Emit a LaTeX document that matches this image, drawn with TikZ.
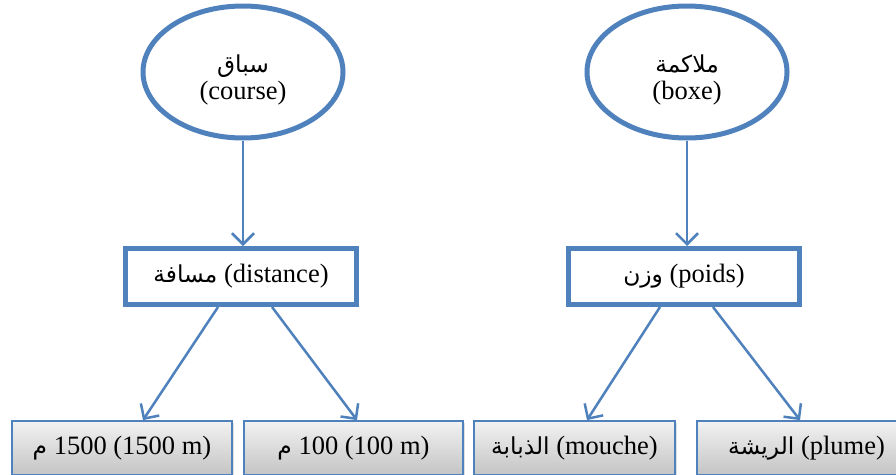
\documentclass[tikz,border=0pt]{standalone}
\usepackage{fontspec}
\setmainfont{Liberation Serif}
\newfontfamily\arabicfont[Script=Arabic,Scale=0.88]{DejaVu Sans}
\TeXXeTstate=1
\usetikzlibrary{shapes.geometric,arrows.meta,calc,shadows}
\definecolor{officeblue}{RGB}{79,129,189}
\definecolor{boxtop}{RGB}{242,242,242}
\definecolor{boxbottom}{RGB}{196,196,196}
\newcommand{\ar}[1]{{\arabicfont\beginR #1\endR}}
\tikzset{
  topic/.style={ellipse, draw=officeblue, line width=5pt, fill=white,
    minimum width=200pt, minimum height=132pt, inner sep=0pt, align=center},
  criterion/.style={rectangle, draw=officeblue, line width=5pt, fill=white,
    minimum width=231pt, minimum height=56pt, inner sep=0pt},
  leaf/.style={rectangle, draw=officeblue, line width=1.8pt,
    top color=boxtop, bottom color=boxbottom,
    drop shadow={shadow xshift=2pt, shadow yshift=-2pt, opacity=0.25},
    minimum height=54pt, inner sep=0pt},
  link/.style={draw=officeblue, line width=2.5pt,
    -{Straight Barb[length=11pt, width=22pt, line width=2.5pt]}},
}
\begin{document}
\begin{tikzpicture}[x=1pt, y=-1pt, font=\fontsize{26.5}{32}\selectfont]
\clip (0,0) rectangle (896,474);
\fill[white] (0,0) rectangle (896,474);

% top level: the two sports
\node[topic] (course) at (243,72) {\rule{0pt}{34pt}\ar{سباق}\\[-5pt](course)};
\node[topic] (boxe) at (687,72) {\rule{0pt}{34pt}\ar{ملاكمة}\\[-5pt](boxe)};

% second level: the criterion for each sport
\node[criterion] (distance) at (241,276.5) {\ar{مسافة} (distance)};
\node[criterion] (poids) at (684,276.5) {\ar{وزن} (poids)};

% third level: the categories
\node[leaf, minimum width=220pt] (m1500) at (122,448) {\ar{م} 1500 (1500 m)};
\node[leaf, minimum width=219pt] (m100) at (353.5,448) {\ar{م} 100 (100 m)};
\node[leaf, minimum width=201pt] (mouche) at (574.5,448) {\ar{الذبابة} (mouche)};
\node[leaf, minimum width=219pt] (plume) at (806.5,448) {\ar{الريشة} (plume)};

% connectors
\draw[link] (course.south) -- (course.south |- distance.north);
\draw[link] (boxe.south) -- (boxe.south |- poids.north);
\draw[link] ([xshift=-23pt]distance.south) -- ([xshift=21pt]m1500.north);
\draw[link] ([xshift=31pt]distance.south) -- ([xshift=3.5pt]m100.north);
\draw[link] ([xshift=-24pt]poids.south) -- ([xshift=12.5pt]mouche.north);
\draw[link] ([xshift=29pt]poids.south) -- ([xshift=-6.5pt]plume.north);
\end{tikzpicture}
\end{document}
